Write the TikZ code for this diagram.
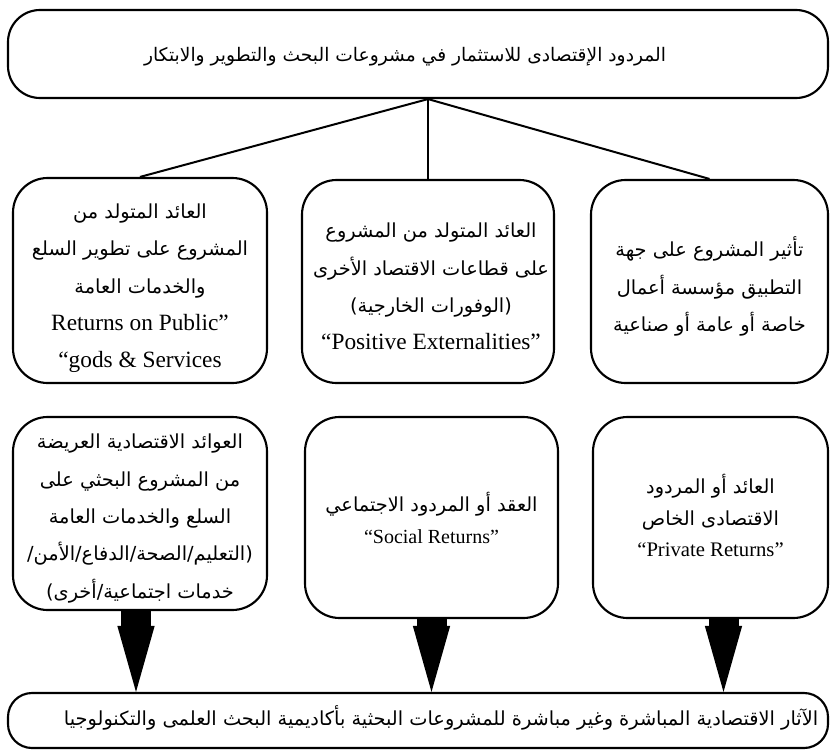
\documentclass[tikz,border=0pt]{standalone}
\usepackage{fontspec}
\setmainfont{Liberation Serif}
\newfontfamily\arfont[Script=Arabic]{DejaVu Sans}
\TeXXeTstate=1
\usetikzlibrary{arrows.meta,calc}
\newcommand{\AR}[1]{{\arfont\fontsize{14.5}{28}\selectfont\beginR #1\endR}}
\newcommand{\ARb}[1]{{\arfont\fontsize{14.5}{23.5}\selectfont\beginR #1\endR}}
\begin{document}
\begin{tikzpicture}[x=0.75pt,y=-0.75pt,
  box/.style={draw=black, line width=1.6pt, rounded corners=26pt, fill=white, inner sep=0pt},
  conn/.style={line width=1.5pt},
  bigarrow/.style={line width=22.5pt, -{Triangle[width=28pt,length=49.5pt,line width=0pt]}},
  txt/.style={align=center, inner sep=0pt, font=\fontsize{17.5}{28}\selectfont}
  ]
\useasboundingbox (0,0) rectangle (833,750);

% top box
\node[box, minimum width=615pt, minimum height=66pt, rounded corners=24pt] (top) at (418,54) {};
\node[txt] (toptxt) at (405,57) {{\arfont\fontsize{14}{28}\selectfont\beginR المردود الإقتصادى للاستثمار في مشروعات البحث والتطوير والابتكار\endR}};

% middle row
\node[box, minimum width=190.5pt, minimum height=153.75pt] (L1) at (140,280.5) {};
\node[txt] (L1t) at ($(L1)+(0,8)$)
  {\AR{العائد المتولد من}\\ \AR{المشروع على تطوير السلع}\\ \AR{والخدمات العامة}\\ Returns on Public”\\ “gods \& Services};
\node[box, minimum width=189pt, minimum height=152.25pt] (M1) at (428,281.5) {};
\node[txt] (M1t) at ($(M1)+(3,5)$)
  {\AR{العائد المتولد من المشروع}\\ \AR{على قطاعات الاقتصاد الأخرى}\\ \AR{(الوفورات الخارجية)}\\ “Positive Externalities”};
\node[box, minimum width=177.75pt, minimum height=152.25pt] (R1) at (709.5,281.5) {};
\node[txt] (R1t) at ($(R1)+(0,5)$)
  {\AR{تأثير المشروع على جهة}\\ \AR{التطبيق مؤسسة أعمال}\\ \AR{خاصة أو عامة أو صناعية}};

% bottom row
\node[box, minimum width=190.5pt, minimum height=144.75pt] (L2) at (140,513.5) {};
\node[txt] (L2t) at ($(L2)+(0,5)$)
  {\AR{العوائد الاقتصادية العريضة}\\ \AR{من المشروع البحثي على}\\ \AR{السلع والخدمات العامة}\\ \AR{(التعليم/الصحة/الدفاع/الأمن/}\\ \AR{خدمات اجتماعية/أخرى)}};
\node[box, minimum width=189.75pt, minimum height=150.75pt] (M2) at (431.5,517.5) {};
\node[txt, font=\fontsize{15}{24}\selectfont] (M2t) at (M2)
  {{\arfont\fontsize{14.5}{24}\selectfont\beginR العقد أو المردود الاجتماعي\endR}\\ “Social Returns”};
\node[box, minimum width=176.25pt, minimum height=150.75pt] (R2) at (710.5,517.5) {};
\node[txt, font=\fontsize{15.5}{23.5}\selectfont] (R2t) at ($(R2)+(0,-2)$)
  {\ARb{العائد أو المردود}\\ \ARb{الاقتصادى الخاص}\\ “Private Returns”};

% bottom box
\node[box, minimum width=615pt, minimum height=41.25pt, rounded corners=18pt] (bot) at (418,720.5) {};
\node[txt] (bottxt) at (441,718) {\AR{الآثار الاقتصادية المباشرة وغير مباشرة للمشروعات البحثية بأكاديمية البحث العلمى والتكنولوجيا}};

% connectors
\coordinate (apex) at (top.south -| M1.north);
\draw[conn] (apex) -- (L1.north);
\draw[conn] (apex) -- (M1.north);
\draw[conn] (apex) -- (R1.north);

\draw[bigarrow] ([xshift=-3pt]L2.south) -- ([xshift=-3pt]L2.south |- bot.north);
\draw[bigarrow] (M2.south) -- (M2.south |- bot.north);
\draw[bigarrow] ([xshift=9.75pt]R2.south) -- ([xshift=9.75pt]R2.south |- bot.north);
\end{tikzpicture}
\end{document}
